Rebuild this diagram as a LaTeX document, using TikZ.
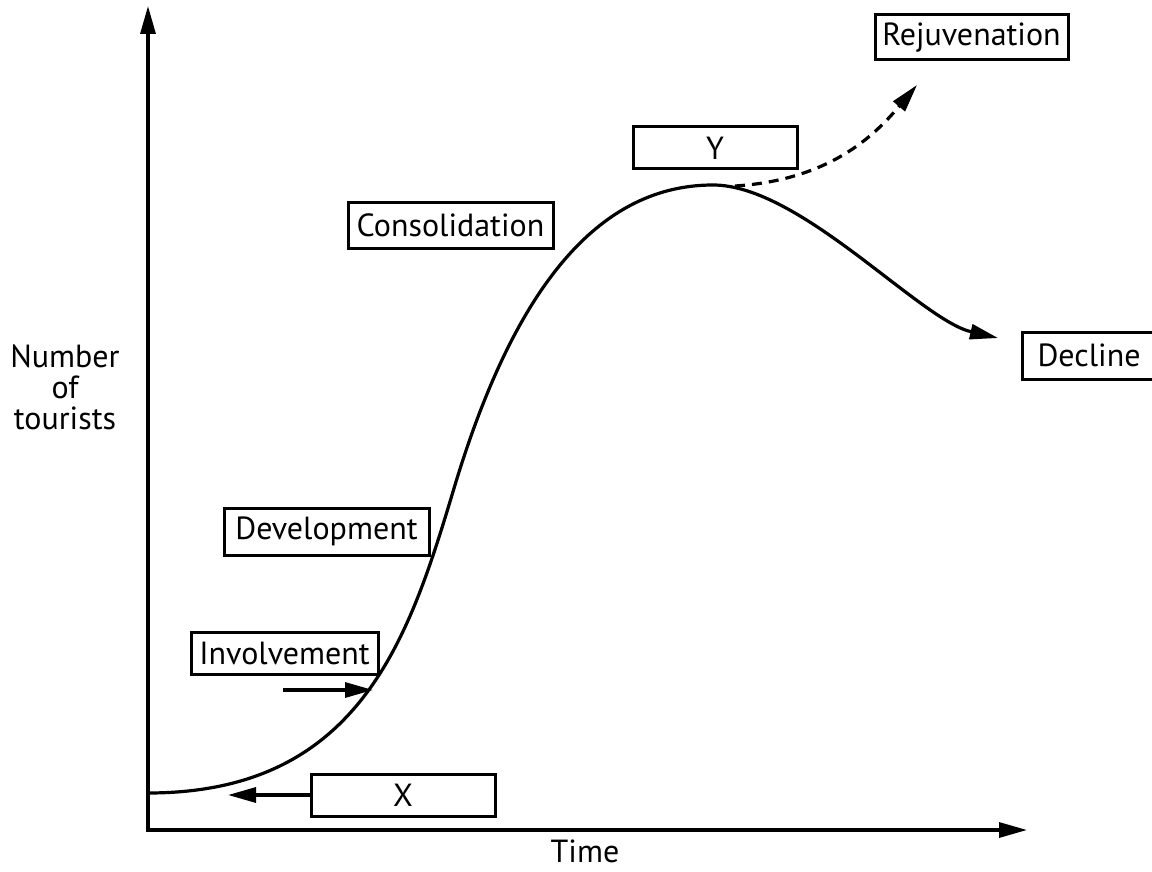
\documentclass[tikz,border=0pt]{standalone}
\usepackage{fontspec}
\setmainfont{PT Sans}
\usetikzlibrary{arrows.meta}
\begin{document}
\begin{tikzpicture}[x=0.5pt,y=-0.5pt,
  lw/.style={line width=1.6pt},
  tip/.style={-{Triangle[length=14pt,width=7.5pt]}},
  box/.style={draw,line width=1.5pt,inner sep=0pt,font=\fontsize{16}{18}\selectfont},
  lab/.style={font=\fontsize{16}{15.5}\selectfont,align=center,inner sep=0pt}]
\useasboundingbox (0,0) rectangle (1152,872);
\clip (0,0) rectangle (1152,872);
% axes
\coordinate (O) at (148,830);
\coordinate (ytop) at (148,6);
\coordinate (xend) at (1027,830);
\draw[lw,{Triangle[length=14pt,width=7.5pt]}-{Triangle[length=14pt,width=7.5pt]}] (ytop) -- (O) -- (xend);
% boxes
\node[box,minimum width=96.5pt,minimum height=22.5pt] (rej) at (971.5,37.5) {Rejuvenation};
\node[box,minimum width=82pt,minimum height=21pt] (Y) at (715,148) {Y};
\node[box,minimum width=102.5pt,minimum height=22.5pt] (cons) at (450.5,225.5) {Consolidation};
\node[box,minimum width=67pt,minimum height=23.5pt] (dec) at (1089,355.5) {Decline};
\node[box,minimum width=102.5pt,minimum height=23.5pt] (dev) at (326.5,531.5) {Development};
\node[box,minimum width=93.5pt,minimum height=21pt] (inv) at (284.5,653) {Involvement};
\node[box,minimum width=92pt,minimum height=21pt] (X) at (403,795) {X};
% labels
\node[lab] (ylab) at (65,387) {Number\\of\\tourists};
\node[lab] (xlab) at (585,851) {Time};
% curve
\coordinate (c0) at (148,793);
\coordinate (c1) at (455,485);
\coordinate (peak) at (713,185);
\coordinate (c3) at (998,338);
\draw[lw,tip] (c0) .. controls (362,793) and (410,635) .. (c1)
  .. controls (510,303.5) and (590,185) .. (peak)
  .. controls (800,185) and (920,320) .. (c3);
% rejuvenation dashed
\coordinate (dstart) at (735,186);
\coordinate (dend) at (917,85);
\draw[lw,tip,dash pattern=on 5pt off 3.5pt] (dstart) .. controls (830,180) and (875,135) .. (dend);
% involvement arrow
\coordinate (ia) at (283,690);
\coordinate (ib) at (373,690);
\draw[lw,tip] (ia) -- (ib);
% X arrow
\coordinate (xt) at (228,795);
\draw[lw,tip] (X.west) -- (xt);
\end{tikzpicture}
\end{document}
